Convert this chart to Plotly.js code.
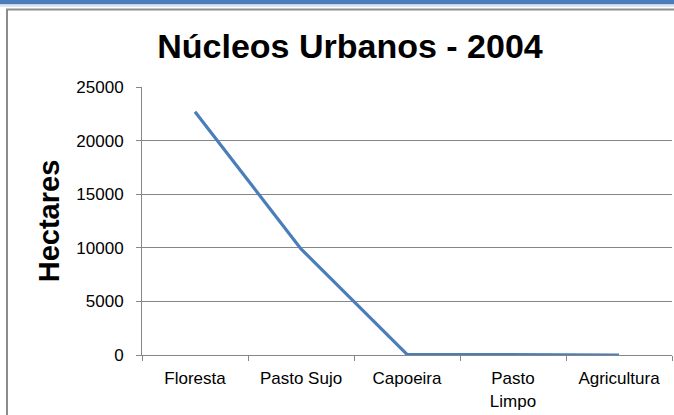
<!DOCTYPE html>
<html>
<head>
<meta charset="utf-8">
<script src="https://cdn.plot.ly/plotly-3.0.1.min.js"></script>
<style>html,body{margin:0;padding:0;background:#fff;}#chart{width:674px;height:415px;}</style>
</head>
<body>
<div id="chart"></div>
<script>
var categories = ["Floresta", "Pasto Sujo", "Capoeira", "Pasto<br>Limpo", "Agricultura"];
var hectares = [22700, 9900, 60, 0, 0];
var yTicks = [0, 5000, 10000, 15000, 20000, 25000];

var W = 674, H = 415, L = 142, R = 2, T = 87, B = 60;
var pw = W - L - R, ph = H - T - B;
function px(x) { return (x - L) / pw; }
function py(y) { return (H - B - y) / ph; }

var trace = {
  x: categories,
  y: hectares,
  type: "scatter",
  mode: "lines",
  line: {color: "#4a7ebb", width: 3.2},
  hoverinfo: "none"
};

var tickFont = {family: "Liberation Sans, Arial, sans-serif", size: 17, color: "#000"};

var layout = {
  width: W, height: H,
  margin: {l: L, r: R, t: T, b: B},
  paper_bgcolor: "rgba(0,0,0,0)",
  plot_bgcolor: "rgba(0,0,0,0)",
  showlegend: false,
  title: {
    text: "<b>Núcleos Urbanos - 2004</b>",
    font: {family: "Liberation Sans, Arial, sans-serif", size: 34, color: "#000"},
    x: 350 / W, xanchor: "center", xref: "container",
    y: 1 - 46 / H, yanchor: "middle", yref: "container"
  },
  xaxis: {
    type: "category",
    range: [-0.5, 4.5],
    tickson: "boundaries",
    ticks: "outside", ticklen: 5, tickcolor: "#868686", tickwidth: 1,
    showline: true, linecolor: "#868686", linewidth: 1,
    showgrid: false, zeroline: false,
    tickfont: tickFont,
    ticklabelstandoff: 8
  },
  yaxis: {
    range: [0, 25000],
    tickvals: yTicks,
    ticktext: yTicks.map(String),
    ticks: "outside", ticklen: 5, tickcolor: "#868686", tickwidth: 1,
    showline: true, linecolor: "#868686", linewidth: 1,
    showgrid: true, gridcolor: "#868686", gridwidth: 1,
    zeroline: false,
    tickfont: tickFont,
    ticklabelstandoff: 9,
    title: {
      text: "<b>Hectares</b>",
      font: {family: "Liberation Sans, Arial, sans-serif", size: 29, color: "#000"},
      standoff: 8
    }
  },
  shapes: [
    {type: "rect", xref: "paper", yref: "paper", x0: px(-2), x1: px(W + 2), y0: py(-2), y1: py(4.5),
     fillcolor: "#4a7ebb", line: {width: 0}, layer: "below"},
    {type: "rect", xref: "paper", yref: "paper", x0: px(-2), x1: px(W + 2), y0: py(4.5), y1: py(7),
     fillcolor: "#dce6f2", line: {width: 0}, layer: "below"},
    {type: "rect", xref: "paper", yref: "paper", x0: px(7), x1: px(W + 10), y0: py(H + 10), y1: py(9.5),
     fillcolor: "rgba(0,0,0,0)", line: {color: "#8c8c8c", width: 2}, layer: "below"}
  ]
};

Plotly.newPlot("chart", [trace], layout, {displayModeBar: false, staticPlot: true});
</script>
</body>
</html>
